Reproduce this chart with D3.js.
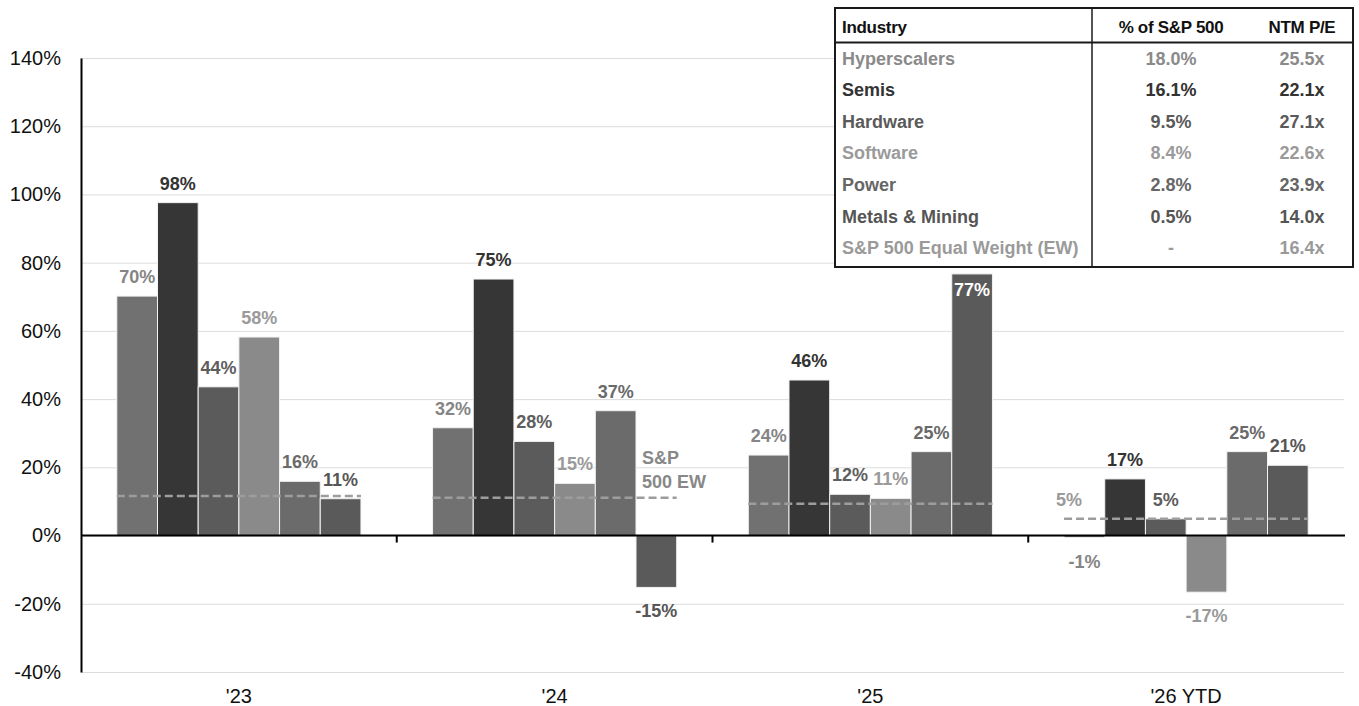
<!DOCTYPE html>
<html>
<head>
<meta charset="utf-8">
<script src="https://cdn.jsdelivr.net/npm/d3@7"></script>
<style>
  html, body { margin: 0; padding: 0; background: #ffffff; }
  svg { display: block; font-family: "Liberation Sans", Arial, sans-serif; }
</style>
</head>
<body>
<svg id="chart" width="1359" height="706"></svg>
<script>
// ---------- DATA ----------
const categories = ["'23", "'24", "'25", "'26 YTD"];
const seriesNames = ["Hyperscalers", "Semis", "Hardware", "Software", "Power", "Metals & Mining"];
const hyperscalers = [70.2, 31.6, 23.6, -0.6];
const semis        = [97.6, 75.2, 45.6, 16.6];
const hardware     = [43.6, 27.6, 12.1, 4.9];
const software     = [58.2, 15.3, 10.9, -16.6];
const power        = [15.9, 36.6, 24.6, 24.6];
const metals       = [10.8, -15.2, 76.7, 20.6];
const equalWeight  = [11.6, 11.1, 9.3, 4.9];
const yTicks = [-40, -20, 0, 20, 40, 60, 80, 100, 120, 140];

const tableHeader    = ["Industry", "% of S&P 500", "NTM P/E"];
const tableIndustry  = ["Hyperscalers", "Semis", "Hardware", "Software", "Power", "Metals & Mining", "S&P 500 Equal Weight (EW)"];
const tableWeight    = ["18.0%", "16.1%", "9.5%", "8.4%", "2.8%", "0.5%", "-"];
const tablePE        = ["25.5x", "22.1x", "27.1x", "22.6x", "23.9x", "14.0x", "16.4x"];

const ewNoteLines = ["S&P", "500 EW"];

// ---------- STYLE ----------
const barColors   = ["#717171", "#363636", "#5b5b5b", "#8a8a8a", "#6b6b6b", "#5a5a5a"];
const labelColors = ["#858585", "#333333", "#5e5e5e", "#9a9a9a", "#6a6a6a", "#565656"];
const tableColors = ["#8a8a8a", "#333333", "#5a5a5a", "#9a9a9a", "#666666", "#555555", "#9a9a9a"];

const seriesValues = [hyperscalers, semis, hardware, software, power, metals];
const data = categories.map((c, i) => ({
  cat: c,
  ew: equalWeight[i],
  bars: seriesNames.map((s, j) => ({ cat: c, series: s, idx: j, value: seriesValues[j][i] }))
}));

const svg = d3.select("#chart");
const mLeft = 81, mRight = 1344, mTop = 58, mBottom = 672;

const x0 = d3.scaleBand().domain(categories).range([mLeft, mRight]).paddingInner(0).paddingOuter(0);
const x1 = d3.scaleBand().domain(seriesNames).range([0, x0.bandwidth()]).paddingInner(0).paddingOuter(0.88);
const y = d3.scaleLinear().domain([-40, 140]).range([mBottom, mTop]);

// table geometry (used for label placement under it)
const tX = 835, tY = 8, tW = 518, tH = 259, sepX = 1092, headY = 42.5;
const underTable = d => (x0(d.cat) + x1(d.series) + x1.bandwidth()) > tX && y(d.value) < tY + tH + 25;

// grid lines
svg.append("g")
  .attr("transform", `translate(${mLeft},0)`)
  .call(d3.axisLeft(y).tickValues(yTicks).tickSize(-(mRight - mLeft)).tickFormat(""))
  .call(g => g.select(".domain").remove())
  .call(g => g.selectAll("line").attr("stroke", "#dcdcdc").attr("stroke-width", 1));

// y axis labels + domain
svg.append("g")
  .attr("transform", `translate(${mLeft},0)`)
  .call(d3.axisLeft(y).tickValues(yTicks).tickSize(0).tickPadding(20).tickFormat(d => d + "%"))
  .call(g => g.select(".domain").attr("stroke", "#000").attr("stroke-width", 2))
  .call(g => g.selectAll("text").attr("font-size", 20).attr("fill", "#111")
                .attr("font-family", "Liberation Sans, Arial, sans-serif"));

// bars
const groups = svg.append("g").selectAll("g.grp").data(data).join("g")
  .attr("class", "grp")
  .attr("transform", d => `translate(${x0(d.cat)},0)`);

groups.selectAll("rect").data(d => d.bars).join("rect")
  .attr("x", d => x1(d.series))
  .attr("width", x1.bandwidth())
  .attr("y", d => y(Math.max(0, d.value)))
  .attr("height", d => Math.abs(y(d.value) - y(0)))
  .attr("fill", d => barColors[d.idx])
  .attr("stroke", "#f2f2f2")
  .attr("stroke-width", 1);

// equal weight dashed line
groups.append("line")
  .attr("x1", x1(seriesNames[0]))
  .attr("x2", x1(seriesNames[5]) + x1.bandwidth())
  .attr("y1", d => y(d.ew))
  .attr("y2", d => y(d.ew))
  .attr("stroke", "#9d9d9d")
  .attr("stroke-width", 2.5)
  .attr("stroke-dasharray", "8,4");

// zero axis line
svg.append("line")
  .attr("x1", mLeft).attr("x2", mRight + 1)
  .attr("y1", y(0)).attr("y2", y(0))
  .attr("stroke", "#000").attr("stroke-width", 2);

// category boundary ticks
svg.append("g").selectAll("line").data(categories.slice(1)).join("line")
  .attr("x1", d => x0(d)).attr("x2", d => x0(d))
  .attr("y1", y(0)).attr("y2", y(0) + 7)
  .attr("stroke", "#000").attr("stroke-width", 2);

// category labels
svg.append("g")
  .attr("transform", `translate(0,${mBottom})`)
  .call(d3.axisBottom(x0).tickSize(0).tickPadding(17))
  .call(g => g.select(".domain").remove())
  .call(g => g.selectAll("text").attr("font-size", 20).attr("fill", "#111")
                .attr("font-family", "Liberation Sans, Arial, sans-serif"));

// value labels
groups.selectAll("text.val").data(d => d.bars).join("text")
  .attr("class", "val")
  .attr("x", d => x1(d.series) + x1.bandwidth() / 2)
  .attr("y", d => {
    if (underTable(d)) return y(d.value) + 22; // label inside tall bar under the table
    return d.value >= 0 ? y(d.value) - 13 : y(d.value) + 30;
  })
  .attr("text-anchor", "middle")
  .attr("font-size", 18)
  .attr("font-weight", "bold")
  .attr("fill", d => underTable(d) ? "#ffffff" : labelColors[d.idx])
  .text(d => Math.round(d.value) + "%");

// EW annotation in '24
const g24 = groups.filter((d, i) => i === 1);
g24.append("text")
  .attr("x", x1(seriesNames[5]) + 6)
  .attr("y", d => y(d.ew) - 34)
  .attr("font-size", 18).attr("font-weight", "bold").attr("fill", "#888")
  .selectAll("tspan").data(ewNoteLines).join("tspan")
  .attr("x", x1(seriesNames[5]) + 6)
  .attr("dy", (t, i) => i === 0 ? 0 : 24)
  .text(t => t);

// EW value label in '26 YTD
const g26 = groups.filter((d, i) => i === 3);
g26.append("text")
  .attr("x", x1(seriesNames[0]) + 5)
  .attr("y", d => y(d.ew) - 13)
  .attr("text-anchor", "middle")
  .attr("font-size", 18).attr("font-weight", "bold").attr("fill", "#9a9a9a")
  .text(d => Math.round(d.ew) + "%");

// ---------- TABLE ----------
const colCenters = [1171, 1302];
const table = svg.append("g");
table.append("rect")
  .attr("x", tX).attr("y", tY).attr("width", tW).attr("height", tH)
  .attr("fill", "#fff").attr("stroke", "#1a1a1a").attr("stroke-width", 2);
table.append("line").attr("x1", tX).attr("x2", tX + tW).attr("y1", headY).attr("y2", headY)
  .attr("stroke", "#1a1a1a").attr("stroke-width", 2);
table.append("line").attr("x1", sepX).attr("x2", sepX).attr("y1", tY).attr("y2", tY + tH)
  .attr("stroke", "#1a1a1a").attr("stroke-width", 1.5);

const headerX = [842, colCenters[0], colCenters[1]];
const headerAnchor = ["start", "middle", "middle"];
table.selectAll("text.hdr").data(tableHeader).join("text")
  .attr("class", "hdr")
  .attr("x", (d, i) => headerX[i]).attr("y", 33)
  .attr("text-anchor", (d, i) => headerAnchor[i])
  .attr("font-size", 17).attr("font-weight", "bold").attr("fill", "#111")
  .attr("letter-spacing", -0.3)
  .text(d => d);

const rowY = i => 64.5 + i * 31.6;
const rows = table.selectAll("g.row").data(tableIndustry).join("g").attr("class", "row");
rows.append("text")
  .attr("x", 842).attr("y", (d, i) => rowY(i))
  .attr("font-size", 18).attr("font-weight", "bold")
  .attr("fill", (d, i) => tableColors[i])
  .text(d => d);
rows.append("text")
  .attr("x", colCenters[0]).attr("y", (d, i) => rowY(i))
  .attr("text-anchor", "middle")
  .attr("font-size", 18).attr("font-weight", "bold")
  .attr("fill", (d, i) => tableColors[i])
  .text((d, i) => tableWeight[i]);
rows.append("text")
  .attr("x", colCenters[1]).attr("y", (d, i) => rowY(i))
  .attr("text-anchor", "middle")
  .attr("font-size", 18).attr("font-weight", "bold")
  .attr("fill", (d, i) => tableColors[i])
  .text((d, i) => tablePE[i]);
</script>
</body>
</html>
